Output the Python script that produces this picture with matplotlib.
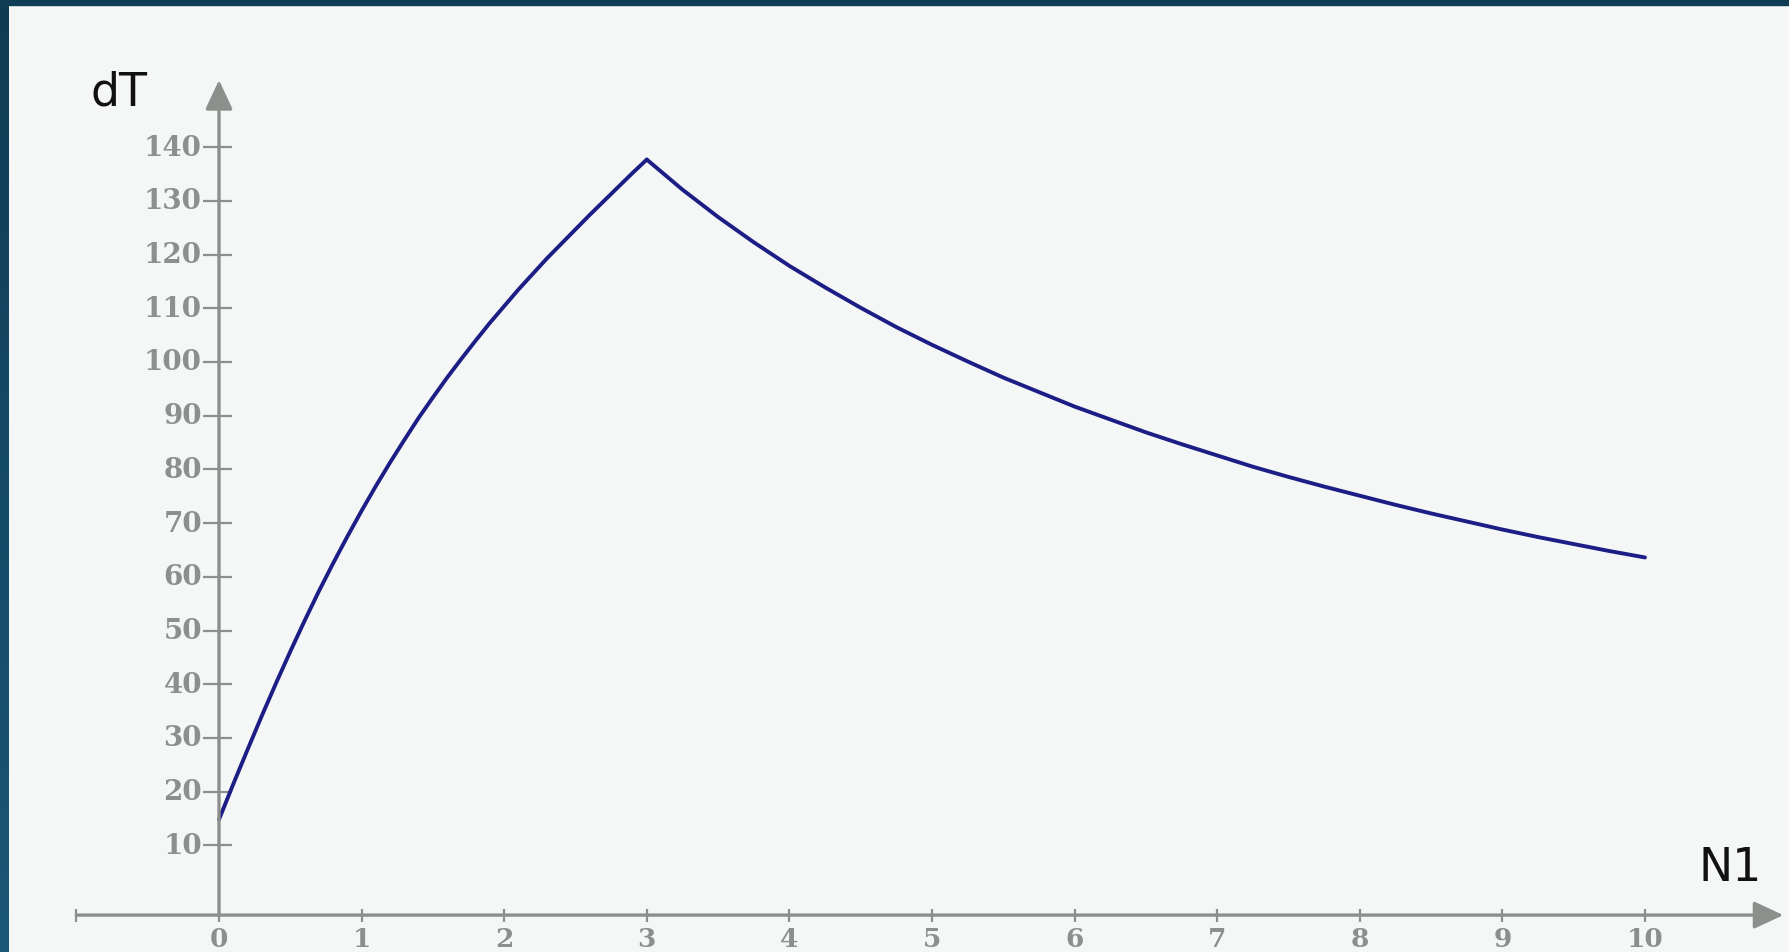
import numpy as np
import matplotlib
matplotlib.use('Agg')
import matplotlib.pyplot as plt

# Curva dT(N1): tramo creciente hasta N1 = 3 y tramo decreciente hasta N1 = 10
n1_subida = [0.0, 0.1, 0.2, 0.3, 0.4, 0.5, 0.6, 0.7, 0.8, 0.9, 1.0,
             1.1, 1.2, 1.3, 1.4, 1.5, 1.6, 1.7, 1.8, 1.9, 2.0,
             2.1, 2.2, 2.3, 2.4, 2.5, 2.6, 2.7, 2.8, 2.9, 3.0]
dt_subida = [14.8, 21.4, 27.8, 34.1, 40.2, 46.1, 51.8, 57.3, 62.5, 67.5, 72.3,
             76.9, 81.3, 85.5, 89.6, 93.4, 97.1, 100.6, 104.0, 107.3, 110.4,
             113.5, 116.4, 119.3, 122.0, 124.7, 127.4, 130.0, 132.6, 135.2, 137.7]
n1_bajada = [3.0, 3.25, 3.5, 3.75, 4.0, 4.25, 4.5, 4.75, 5.0, 5.25, 5.5, 5.75, 6.0, 6.25,
             6.5, 6.75, 7.0, 7.25, 7.5, 7.75, 8.0, 8.25, 8.5, 8.75, 9.0, 9.25, 9.5, 9.75, 10.0]
dt_bajada = [137.7, 132.1, 127.0, 122.3, 117.9, 113.9, 110.1, 106.5, 103.2, 100.1, 97.1, 94.4, 91.7, 89.3,
             86.9, 84.7, 82.6, 80.5, 78.6, 76.8, 75.1, 73.4, 71.8, 70.3, 68.8, 67.4, 66.1, 64.8, 63.6]

x_ticks = [0, 1, 2, 3, 4, 5, 6, 7, 8, 9, 10]
y_ticks = [10, 20, 30, 40, 50, 60, 70, 80, 90, 100, 110, 120, 130, 140]

fondo = '#f4f7f5'
gris = '#8d8f8d'
azul = '#1d1d86'

W, H = 1789, 953
fig = plt.figure(figsize=(W / 100, H / 100), dpi=100)
fig.patch.set_facecolor(fondo)

# marco oscuro arriba y a la izquierda
borde = fig.add_axes([0, 0, 9 / W, 1])
borde.imshow(np.linspace(0, 1, 100).reshape(-1, 1), aspect='auto', origin='upper',
             cmap=matplotlib.colors.LinearSegmentedColormap.from_list('b', ['#0f3c54', '#1b5777']))
borde.axis('off')
fig.patches.append(plt.Rectangle((0, 1 - 6 / H), 1, 6 / H, transform=fig.transFigure,
                                 color='#0f3d55', zorder=5))

ax = fig.add_axes([9 / W, 0, 1 - 9 / W, 1 - 6 / H])
ax.set_facecolor(fondo)
# origen en (219, 900) px, 142.6 px por unidad en x, 5.37 px por unidad en y
x0, sx, y0, sy = 219 - 9, 142.6, 900 - 6, 5.37
ax.set_xlim(-x0 / sx, (W - 9 - x0) / sx)
ax.set_ylim(-(H - 6 - y0) / sy, y0 / sy)
ax.set_xticks([])
ax.set_yticks([])
for s in ax.spines.values():
    s.set_visible(False)

y_eje = -3
# ejes con flecha
flecha = dict(arrowstyle='-|>,head_length=0.6,head_width=0.28', color=gris, lw=2.4,
              mutation_scale=30, shrinkA=0, shrinkB=0)
ax.annotate('', xy=(10.97, y_eje), xytext=(-1.0, y_eje), arrowprops=flecha)
ax.annotate('', xy=(0, 152.5), xytext=(0, y_eje), arrowprops=flecha)

# marcas de los ejes
for v in y_ticks:
    ax.plot([-0.11, 0.09], [v, v], color=gris, lw=1.6, solid_capstyle='butt')
    ax.text(-0.12, v, str(v), ha='right', va='center', fontsize=20, color=gris,
            family='DejaVu Serif', fontweight='bold')
for v in [-1] + x_ticks:
    ax.plot([v, v], [y_eje - 1.2, y_eje + 1.2], color=gris, lw=1.6, solid_capstyle='butt')
for v in x_ticks:
    ax.text(v, -8.75, str(v), ha='center', va='baseline', fontsize=19, color=gris,
            family='DejaVu Serif', fontweight='bold')

ax.plot(n1_subida, dt_subida, color=azul, lw=2.8, solid_capstyle='round', solid_joinstyle='miter')
ax.plot(n1_bajada, dt_bajada, color=azul, lw=2.8, solid_capstyle='round')

ax.text(-0.70, 150.3, 'dT', ha='center', va='center', fontsize=33, color='#111111', family='DejaVu Sans')
ax.text(10.60, 5.8, 'N1', ha='center', va='center', fontsize=33, color='#111111', family='DejaVu Sans')

plt.savefig('out.png', dpi=100, facecolor=fondo)
plt.close()
